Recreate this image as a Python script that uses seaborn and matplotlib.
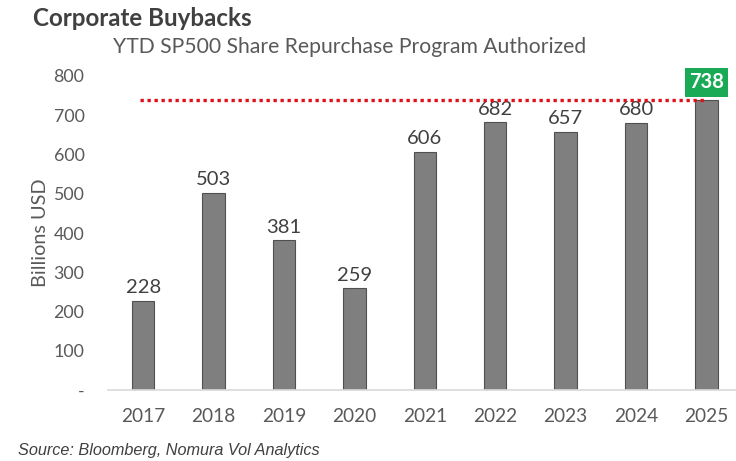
import matplotlib
matplotlib.use("Agg")
import matplotlib.pyplot as plt
import seaborn as sns
import pandas as pd

years = ["2017", "2018", "2019", "2020", "2021", "2022", "2023", "2024", "2025"]
values = [228, 503, 381, 259, 606, 682, 657, 680, 738]
yticks = [0, 100, 200, 300, 400, 500, 600, 700, 800]
ytick_labels = ["-", "100", "200", "300", "400", "500", "600", "700", "800"]

sns.set_theme(style="white")
plt.rcParams['font.family'] = ['Lato', 'DejaVu Sans']

df = pd.DataFrame({"year": years, "value": values})

fig = plt.figure(figsize=(7.36, 4.61), dpi=100)
ax = fig.add_axes([108/736, (461-390)/461, (736-108)/736, (390-76)/461])

sns.barplot(data=df, x="year", y="value", ax=ax, color="#7f7f7f",
            width=0.32, edgecolor="#505050", linewidth=0.8, saturation=1)

ax.set_ylim(0, 800)
ax.set_xlim(-0.5, 8.42)
ax.set_yticks(yticks)
ax.set_yticklabels(ytick_labels, fontsize=12.8, color="#595959")
ax.tick_params(axis="x", labelsize=13.8, colors="#595959", length=0, pad=13)
ax.tick_params(axis="y", length=0, pad=17)
ax.set_xlabel("")
ax.set_ylabel("Billions USD", fontsize=14.3, color="#595959", labelpad=3)

for s in ["top", "right", "left"]:
    ax.spines[s].set_visible(False)
ax.spines["bottom"].set_color("#d9d9d9")
ax.spines["bottom"].set_linewidth(1.2)

for i, v in enumerate(values[:-1]):
    ax.text(i, v + 12, str(v), ha="center", va="bottom", fontsize=14.5, color="#404040")

# highlight last value
ax.text(8, 784, str(values[-1]), ha="center", va="center", fontsize=14.5,
        fontweight="bold", color="white",
        bbox=dict(boxstyle="square,pad=0.22", facecolor="#1aaa55", edgecolor="none"))

ax.plot([-0.05, 8.0], [values[-1], values[-1]], linestyle=(0, (1, 1.1)),
        color="#e0101a", linewidth=2.4, zorder=5)

fig.text(33/736, 1 - 18/461, "Corporate Buybacks", fontsize=17.4, fontweight="bold",
         color="#404040", va="center", ha="left")
fig.text(113/736, 1 - 47/461, "YTD SP500 Share Repurchase Program Authorized", fontsize=15.2,
         color="#595959", va="center", ha="left")
fig.text(18/736, 1 - 450/461, "Source: Bloomberg, Nomura Vol Analytics", fontsize=11.7,
         style="italic", family=["Liberation Sans", "DejaVu Sans"], color="#404040",
         va="center", ha="left")

fig.savefig("out.png", dpi=100)
